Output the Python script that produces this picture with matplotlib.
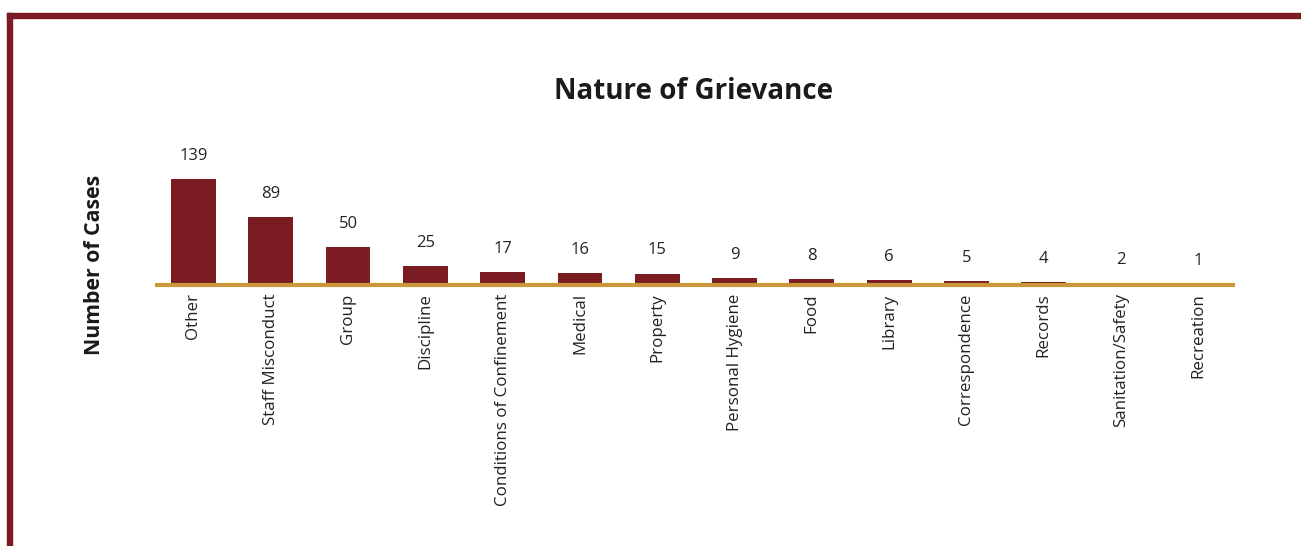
import matplotlib
matplotlib.use("Agg")
import matplotlib.pyplot as plt
from matplotlib.patches import Rectangle

categories = ["Other", "Staff Misconduct", "Group", "Discipline",
              "Conditions of Confinement", "Medical", "Property",
              "Personal Hygiene", "Food", "Library", "Correspondence",
              "Records", "Sanitation/Safety", "Recreation"]
cases = [139, 89, 50, 25, 17, 16, 15, 9, 8, 6, 5, 4, 2, 1]

maroon = "#7A1C21"
gold = "#C9973A"

plt.rcParams['font.family'] = ['Open Sans', 'DejaVu Sans']

fig = plt.figure(figsize=(13.01, 5.46), dpi=100)
ax = fig.add_axes([0.119, 0.478, 0.830, 0.209])

x = list(range(len(categories)))
ax.bar(x, cases, width=0.58, color=maroon, zorder=2)
ax.axhline(0, color=gold, lw=3, zorder=3, clip_on=False, solid_capstyle="butt")

for xi, v in zip(x, cases):
    ax.annotate(str(v), (xi, v), xytext=(0, 11), textcoords="offset points",
                ha="center", va="bottom", fontsize=12, color="#222222")

ax.set_xlim(-0.5, 13.47)
ax.set_ylim(0, 150)
ax.set_xticks(x)
ax.set_xticklabels(categories, rotation=90, fontsize=12.2, color="#222222")
ax.tick_params(axis="x", length=0, pad=6)
ax.set_yticks([])
for s in ax.spines.values():
    s.set_visible(False)

fig.text(0.533, 0.833, "Nature of Grievance", ha="center", va="center",
         fontsize=20, fontweight="bold", color="#1a1a1a")
fig.text(0.073, 0.515, "Number of Cases", ha="center", va="center",
         rotation=90, fontsize=15.3, fontweight="bold", color="#1a1a1a")

# frame on top and left
fig.patches.append(Rectangle((7 / 1301, 1 - 18 / 546), 1, 5 / 546,
                             transform=fig.transFigure, color=maroon))
fig.patches.append(Rectangle((7 / 1301, 0), 5 / 1301, 1 - 13 / 546,
                             transform=fig.transFigure, color=maroon))

fig.savefig("out.png", dpi=100)
